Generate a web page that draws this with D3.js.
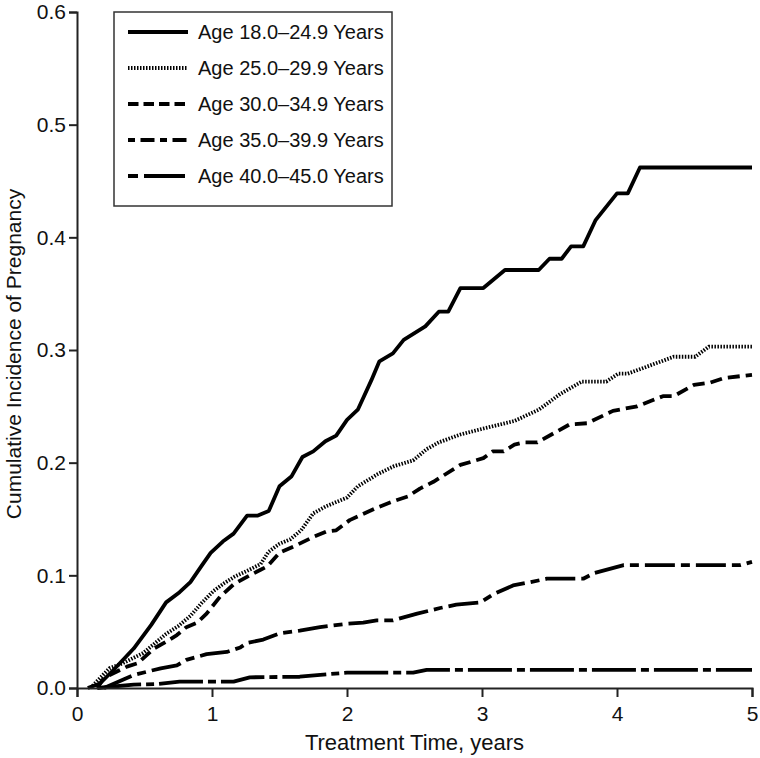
<!DOCTYPE html>
<html>
<head>
<meta charset="utf-8">
<script src="https://cdn.jsdelivr.net/npm/d3@7"></script>
<style>
  html, body { margin: 0; padding: 0; background: #fff; }
  svg { display: block; font-family: "Liberation Sans", Arial, sans-serif; }
</style>
</head>
<body>
<svg id="chart" width="760" height="758"></svg>
<script>
// ---- Data ----
const seriesLabels = [
  "Age 18.0\u201324.9 Years",
  "Age 25.0\u201329.9 Years",
  "Age 30.0\u201334.9 Years",
  "Age 35.0\u201339.9 Years",
  "Age 40.0\u201345.0 Years"
];
const xTicks = [0, 1, 2, 3, 4, 5];
const yTicks = [0.0, 0.1, 0.2, 0.3, 0.4, 0.5, 0.6];

const age18to24 = [[0.08,0],[0.17,0.004],[0.27,0.016],[0.42,0.035],[0.55,0.056],[0.66,0.076],[0.76,0.085],[0.84,0.094],[0.92,0.108],[0.99,0.12],[1.08,0.13],[1.16,0.137],[1.26,0.153],[1.34,0.153],[1.42,0.157],[1.50,0.179],[1.59,0.188],[1.67,0.205],[1.75,0.21],[1.84,0.219],[1.92,0.224],[2.0,0.238],[2.08,0.247],[2.18,0.273],[2.24,0.29],[2.34,0.297],[2.42,0.309],[2.58,0.321],[2.68,0.334],[2.75,0.334],[2.84,0.355],[3.01,0.355],[3.17,0.371],[3.42,0.371],[3.50,0.381],[3.59,0.381],[3.66,0.392],[3.75,0.392],[3.84,0.415],[3.92,0.427],[4.0,0.439],[4.08,0.439],[4.17,0.462],[5.0,0.462]];

const age25to29 = [[0.10,0],[0.24,0.0175],[0.34,0.022],[0.49,0.031],[0.59,0.041],[0.66,0.048],[0.75,0.055],[0.84,0.064],[0.92,0.075],[1.01,0.086],[1.09,0.093],[1.17,0.099],[1.26,0.104],[1.36,0.11],[1.42,0.121],[1.50,0.128],[1.58,0.132],[1.66,0.14],[1.75,0.155],[1.84,0.161],[2.0,0.169],[2.08,0.179],[2.23,0.19],[2.35,0.197],[2.49,0.202],[2.59,0.212],[2.68,0.218],[2.84,0.225],[3.0,0.23],[3.24,0.237],[3.33,0.242],[3.42,0.247],[3.58,0.261],[3.74,0.272],[3.92,0.272],[4.01,0.279],[4.08,0.279],[4.42,0.294],[4.58,0.294],[4.68,0.303],[5.0,0.303]];

const age30to34 = [[0.15,0],[0.20,0.009],[0.37,0.019],[0.45,0.022],[0.57,0.035],[0.66,0.041],[0.74,0.047],[0.81,0.054],[0.89,0.058],[0.96,0.066],[1.06,0.081],[1.16,0.092],[1.28,0.1],[1.36,0.105],[1.41,0.108],[1.50,0.12],[1.63,0.127],[1.75,0.134],[1.85,0.139],[1.92,0.14],[2.02,0.149],[2.22,0.16],[2.35,0.166],[2.45,0.17],[2.54,0.177],[2.64,0.183],[2.84,0.198],[3.01,0.204],[3.08,0.21],[3.16,0.21],[3.24,0.216],[3.31,0.218],[3.41,0.218],[3.65,0.234],[3.78,0.235],[3.97,0.246],[4.15,0.25],[4.34,0.259],[4.42,0.259],[4.57,0.269],[4.69,0.271],[4.79,0.275],[5.0,0.278]];

const age35to39 = [[0.20,0],[0.42,0.0115],[0.57,0.016],[0.62,0.0175],[0.74,0.02],[0.81,0.025],[0.96,0.03],[1.11,0.032],[1.21,0.036],[1.26,0.04],[1.38,0.043],[1.50,0.0485],[1.65,0.051],[1.80,0.054],[2.0,0.057],[2.12,0.058],[2.22,0.06],[2.34,0.06],[2.52,0.066],[2.69,0.071],[2.81,0.074],[2.99,0.076],[3.08,0.083],[3.23,0.091],[3.36,0.094],[3.48,0.097],[3.75,0.097],[3.83,0.102],[4.05,0.109],[4.91,0.109],[5.0,0.112]];

const age40to45 = [[0.15,0],[0.42,0.003],[0.59,0.0035],[0.76,0.0056],[1.16,0.0056],[1.28,0.0095],[1.65,0.01],[1.78,0.0115],[2.0,0.0136],[2.49,0.0136],[2.59,0.016],[5.0,0.016]];

const allSeries = [age18to24, age25to29, age30to34, age35to39, age40to45];

// ---- Styles ----
const plotDash   = [null, "1.5,1.5", "12,6", "30,6,9,6", "44,5,8,5"];
const legendDash = [null, "1.5,1.5", "10.5,5", "7,5.5,14,5.5", "10,6,41,6"];

// ---- Layout ----
const svg = d3.select("#chart");
const x = d3.scaleLinear().domain([0, 5]).range([77, 752]);
const y = d3.scaleLinear().domain([0, 0.6]).range([688, 12]);

// Curves
const line = d3.line().x(d => x(d[0])).y(d => y(d[1]));
const curves = svg.append("g");
allSeries.forEach((s, i) => {
  curves.append("path")
    .attr("d", line(s))
    .attr("fill", "none")
    .attr("stroke", "#000")
    .attr("stroke-width", 3.8)
    .attr("stroke-linejoin", "round")
    .attr("stroke-dasharray", plotDash[i]);
});

// Axes
const xAxis = svg.append("g")
  .attr("transform", `translate(0,${y(0)})`)
  .call(d3.axisBottom(x).tickValues(xTicks).tickFormat(d3.format("d")).tickSizeOuter(0).tickSize(9).tickPadding(9));
const yAxis = svg.append("g")
  .attr("transform", `translate(${x(0)},0)`)
  .call(d3.axisLeft(y).tickValues(yTicks).tickFormat(d3.format(".1f")).tickSizeOuter(0).tickSize(8).tickPadding(3));

[xAxis, yAxis].forEach(a => {
  a.select(".domain").attr("stroke", "#222").attr("stroke-width", 2);
  a.selectAll(".tick line").attr("stroke", "#222").attr("stroke-width", 2);
  a.selectAll(".tick text").attr("font-size", 21).attr("fill", "#111")
    .attr("font-family", '"Liberation Sans", Arial, sans-serif');
});

// Axis titles
svg.append("text")
  .attr("x", (x(0) + x(5)) / 2).attr("y", 750)
  .attr("text-anchor", "middle").attr("font-size", 22).attr("fill", "#111")
  .text("Treatment Time, years");
svg.append("text")
  .attr("transform", `translate(21,${(y(0) + y(0.6)) / 2 + 4}) rotate(-90)`)
  .attr("text-anchor", "middle").attr("font-size", 21).attr("fill", "#111")
  .text("Cumulative Incidence of Pregnancy");

// Legend
const legend = svg.append("g");
legend.append("rect")
  .attr("x", 114).attr("y", 12).attr("width", 278).attr("height", 194)
  .attr("fill", "#fff").attr("stroke", "#333").attr("stroke-width", 1.5);
seriesLabels.forEach((lab, i) => {
  const cy = 32 + i * 36;
  legend.append("line")
    .attr("x1", 128).attr("x2", 188).attr("y1", cy).attr("y2", cy)
    .attr("stroke", "#000").attr("stroke-width", 4)
    .attr("stroke-dasharray", legendDash[i]);
  legend.append("text")
    .attr("x", 198).attr("y", cy + 7)
    .attr("font-size", 20).attr("fill", "#111")
    .text(lab);
});
</script>
</body>
</html>
